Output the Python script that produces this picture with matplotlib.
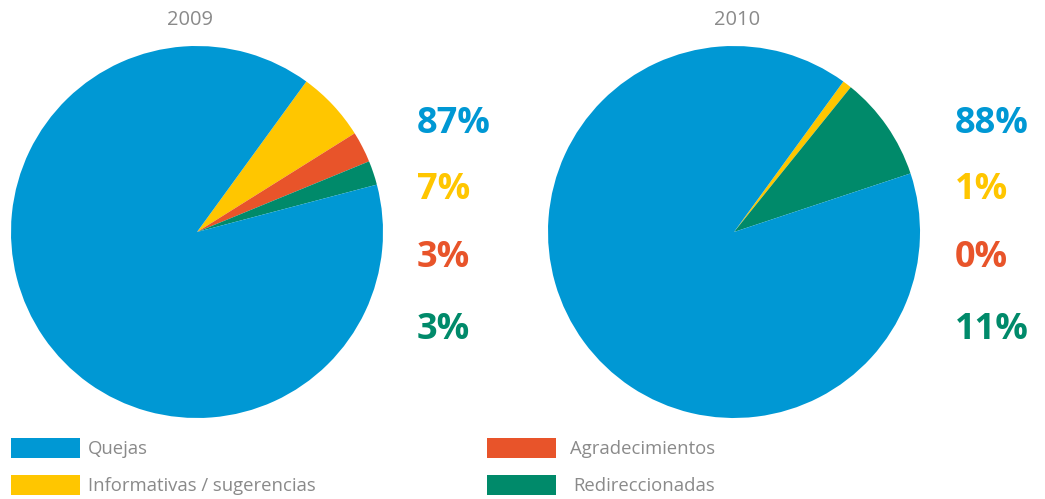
import matplotlib
matplotlib.use("Agg")
import matplotlib.pyplot as plt
from matplotlib.patches import Rectangle

# ---- data ----
years = ["2009", "2010"]
categories = ["Quejas", "Informativas / sugerencias", "Agradecimientos", "Redireccionadas"]
quejas = [89.1, 90.1]
informativas = [6.1, 0.8]
agradecimientos = [2.7, 0.0]
redireccionadas = [2.1, 9.1]
pct_labels = [["87%", "7%", "3%", "3%"], ["88%", "1%", "0%", "11%"]]

COLORS = ["#0098D4", "#FFC600", "#E8542A", "#008A6A"]
GREY = "#8A8A8A"
W, H = 1045, 499

plt.rcParams["font.family"] = ["Open Sans", "DejaVu Sans"]
fig = plt.figure(figsize=(W / 100, H / 100), dpi=100)


def px_axes(x0, y0, x1, y1):
    # pixel box (top-left origin) -> figure axes
    return fig.add_axes([x0 / W, 1 - y1 / H, (x1 - x0) / W, (y1 - y0) / H])


pie_boxes = [(11, 46, 383, 418), (548, 46, 920, 418)]
title_x = [190, 737]
label_x = [417, 955]
label_y = [124, 190, 258, 330]

for i, yr in enumerate(years):
    ax = px_axes(*pie_boxes[i])
    # clockwise from ~54 deg: yellow, orange, green, then blue
    vals = [informativas[i], agradecimientos[i], redireccionadas[i], quejas[i]]
    cols = [COLORS[1], COLORS[2], COLORS[3], COLORS[0]]
    ax.pie(vals, colors=cols, startangle=54, counterclock=False,
           wedgeprops=dict(linewidth=0))
    ax.set_xlim(-1, 1)
    ax.set_ylim(-1, 1)
    ax.set_aspect("equal")
    fig.text(title_x[i] / W, 1 - 20 / H, yr, ha="center", va="center",
             fontsize=14.5, color=GREY)
    for j, lab in enumerate(pct_labels[i]):
        fig.text(label_x[i] / W, 1 - label_y[j] / H, lab, ha="left", va="center",
                 fontsize=26, fontweight="bold", color=COLORS[j])

# legend
leg = [(11, 438, categories[0], 88, COLORS[0]),
       (11, 475, categories[1], 88, COLORS[1]),
       (487, 438, categories[2], 570, COLORS[2]),
       (487, 475, categories[3], 573, COLORS[3])]
for x0, y0, txt, tx, c in leg:
    fig.patches.append(Rectangle((x0 / W, 1 - (y0 + 20) / H), 69 / W, 20 / H,
                                 transform=fig.transFigure, color=c, lw=0))
    fig.text(tx / W, 1 - (y0 + 11) / H, txt, ha="left", va="center",
             fontsize=13.3, color=GREY)

fig.savefig("out.png", dpi=100)
